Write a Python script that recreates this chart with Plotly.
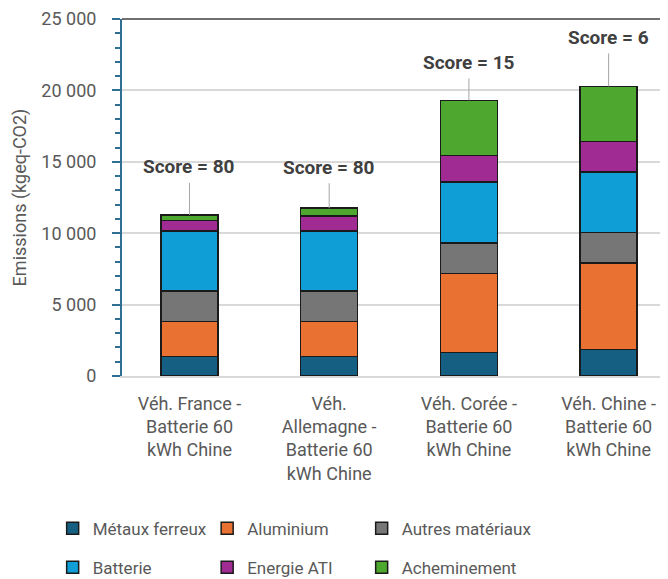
import plotly.graph_objects as go

categories = [
    "Véh. France -<br>Batterie 60<br>kWh Chine",
    "Véh.<br>Allemagne -<br>Batterie 60<br>kWh Chine",
    "Véh. Corée -<br>Batterie 60<br>kWh Chine",
    "Véh. Chine -<br>Batterie 60<br>kWh Chine",
]
metaux_ferreux = [1350, 1350, 1630, 1870]
aluminium = [2450, 2450, 5550, 6050]
autres_materiaux = [2140, 2140, 2140, 2130]
batterie = [4200, 4200, 4270, 4240]
energie_ati = [750, 1070, 1860, 2140]
acheminement = [390, 540, 3850, 3850]
scores = [80, 80, 15, 6]

series_names = ["Métaux ferreux", "Aluminium", "Autres matériaux",
                "Batterie", "Energie ATI", "Acheminement"]
series_values = [metaux_ferreux, aluminium, autres_materiaux,
                 batterie, energie_ati, acheminement]
series_colors = ["#156082", "#E97132", "#767676", "#0F9ED5", "#A02B93", "#4EA72E"]
series_legends = ["legend", "legend", "legend", "legend2", "legend2", "legend2"]
series_legendwidths = [109.5, 109.5, 200, 109.5, 109.5, 200]

# pixel offsets of the score labels above the bars (styling)
score_offsets = [-48, -41, -38, -49]

FONT = "Roboto"
GRAY_TXT = "#595959"
AXIS_COL = "#2F6F93"

fig = go.Figure()
for name, vals, col, leg, lw in zip(series_names, series_values, series_colors,
                                    series_legends, series_legendwidths):
    fig.add_trace(go.Bar(
        x=categories, y=vals, name=name, legend=leg, legendwidth=lw,
        marker=dict(color=col, line=dict(color="#1a1a1a", width=1.5)),
    ))

totals = [sum(v) for v in zip(*series_values)]
for cat, tot, sc, off in zip(categories, totals, scores, score_offsets):
    fig.add_annotation(
        x=cat, y=tot, text=f"Score = {sc}",
        showarrow=True, arrowhead=0, arrowwidth=1, arrowcolor="#A6A6A6",
        ax=0, ay=off, borderpad=4,
        font=dict(family=FONT, size=19, color="#404040", weight="bold"),
    )

fig.add_shape(type="line", xref="paper", yref="paper", x0=0, x1=1, y0=1, y1=1,
              line=dict(color="#404040", width=1.5))

legend_common = dict(
    orientation="h", xanchor="left", yanchor="middle",
    entrywidthmode="pixels",
    font=dict(family=FONT, size=17, color=GRAY_TXT),
    bgcolor="rgba(0,0,0,0)", traceorder="normal",
)

fig.update_layout(
    width=660, height=571,
    margin=dict(l=114, r=0, t=10.5, b=203, autoexpand=False),
    plot_bgcolor="white", paper_bgcolor="white",
    barmode="stack", bargap=0.592,
    separators=", ",
    font=dict(family=FONT, color=GRAY_TXT),
    legend=dict(x=-0.127, y=-0.428, **legend_common),
    legend2=dict(x=-0.127, y=-0.537, **legend_common),
    xaxis=dict(
        range=[-0.483, 3.425],
        showline=True, linecolor="#D9D9D9", linewidth=2,
        showgrid=False, ticks="",
        tickfont=dict(family=FONT, size=18, color=GRAY_TXT),
        ticklabelstandoff=10,
    ),
    yaxis=dict(
        range=[0, 25000], dtick=5000, tickformat=",",
        showline=True, linecolor=AXIS_COL, linewidth=2,
        showgrid=True, gridcolor="#D9D9D9", gridwidth=1.5,
        zeroline=False,
        ticks="outside", ticklen=8, tickcolor=AXIS_COL, tickwidth=1.5,
        minor=dict(dtick=1000, ticks="outside", ticklen=5, tickcolor=AXIS_COL,
                   tickwidth=1.5, showgrid=False),
        tickfont=dict(family=FONT, size=18, color=GRAY_TXT),
        ticklabelstandoff=12,
        title=dict(text="Emissions (kgeq-CO2)", standoff=10,
                   font=dict(family=FONT, size=18, color=GRAY_TXT)),
    ),
)

fig.write_html("out.html")
